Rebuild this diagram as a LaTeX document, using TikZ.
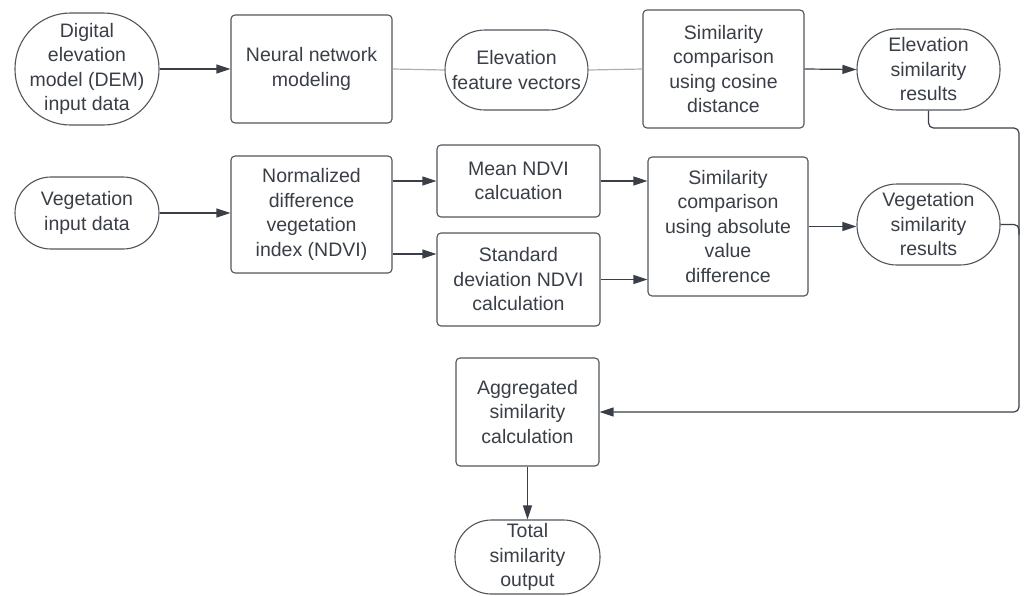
\documentclass[tikz,border=0pt]{standalone}
\usepackage{fontspec}
\setmainfont{Liberation Sans}
\usetikzlibrary{arrows.meta,calc}
\definecolor{ink}{HTML}{3A3F47}
\definecolor{edgecol}{HTML}{50555D}
\definecolor{faint}{HTML}{B0B0B0}
\begin{document}
\begin{tikzpicture}[x=1pt,y=-1pt,
  base/.style={draw=edgecol, line width=1.1pt, text=ink, align=center, inner sep=0pt,
    font=\fontsize{19.5}{24.5}\selectfont},
  proc/.style={base, rectangle, rounded corners=4pt},
  term/.style={base, rectangle, rounded corners=#1},
  arr/.style={draw=ink, line width=1.2pt, -{Triangle[length=14pt,width=9pt]}},
  plainline/.style={draw=faint, line width=1.2pt}]
\useasboundingbox[fill=white] (0,0) rectangle (1024,595);

% top row
\node[term=55.5pt, minimum width=144pt, minimum height=112pt] (dem) at (87,69)
  {Digital\\elevation\\model (DEM)\\input data};
\node[proc, minimum width=161pt, minimum height=108pt] (nn) at (311.5,69)
  {Neural network\\modeling};
\node[term=40pt, minimum width=143pt, minimum height=80pt] (efv) at (516.5,70)
  {Elevation\\feature vectors};
\node[proc, minimum width=161pt, minimum height=118pt] (cos) at (723.5,69)
  {Similarity\\comparison\\using cosine\\distance};
\node[term=40pt, minimum width=143pt, minimum height=81pt] (esr) at (928.5,69.5)
  {Elevation\\similarity\\results};

% middle row
\node[term=36pt, minimum width=144pt, minimum height=72pt] (veg) at (87,213)
  {Vegetation\\input data};
\node[proc, minimum width=161pt, minimum height=117pt] (ndvi) at (311.5,214.5)
  {Normalized\\difference\\vegetation\\index (NDVI)};
\node[proc, minimum width=163pt, minimum height=72pt] (mean) at (518.5,181)
  {Mean NDVI\\calcuation};
\node[proc, minimum width=163pt, minimum height=93pt] (std) at (518.5,279.5)
  {Standard\\deviation NDVI\\calculation};
\node[proc, minimum width=160pt, minimum height=139pt] (abs) at (728,226.5)
  {Similarity\\comparison\\using absolute\\value\\difference};
\node[term=40pt, minimum width=143pt, minimum height=81pt] (vsr) at (928.5,224.5)
  {Vegetation\\similarity\\results};

% bottom
\node[proc, minimum width=143pt, minimum height=108pt] (agg) at (527.5,412)
  {Aggregated\\similarity\\calculation};
\node[term=36.5pt, minimum width=145pt, minimum height=74pt] (tot) at (527.5,557)
  {Total\\similarity\\output};

% connectors
\draw[arr] (dem.east) -- (nn.west);
\draw[plainline] (nn.east) -- (efv.west);
\draw[plainline] (efv.east) -- (cos.west);
\draw[arr] (cos.east) -- (esr.west);

\draw[arr] (veg.east) -- (veg.east -| ndvi.west);
\draw[arr] (ndvi.east |- mean.west) -- (mean.west);
\draw[arr] ([yshift=-39.5pt]ndvi.east) coordinate (n2) -- (n2 -| std.west);
\draw[arr] (mean.east) -- (mean.east -| abs.west);
\draw[arr] (std.east) -- (std.east -| abs.west);
\draw[arr] (abs.east) -- (abs.east -| vsr.west);

\coordinate (rail) at (1019,128);
\draw[arr, rounded corners=5pt] (esr.south) -- (esr.south |- rail) -- (rail)
  -- (rail |- agg.east) -- (agg.east);
\draw[draw=ink, line width=1.2pt, rounded corners=5pt] (vsr.east) -- (vsr.east -| rail) -- ([yshift=-10pt]vsr.east -| rail);
\draw[arr] (agg.south) -- (tot.north);
\end{tikzpicture}
\end{document}
